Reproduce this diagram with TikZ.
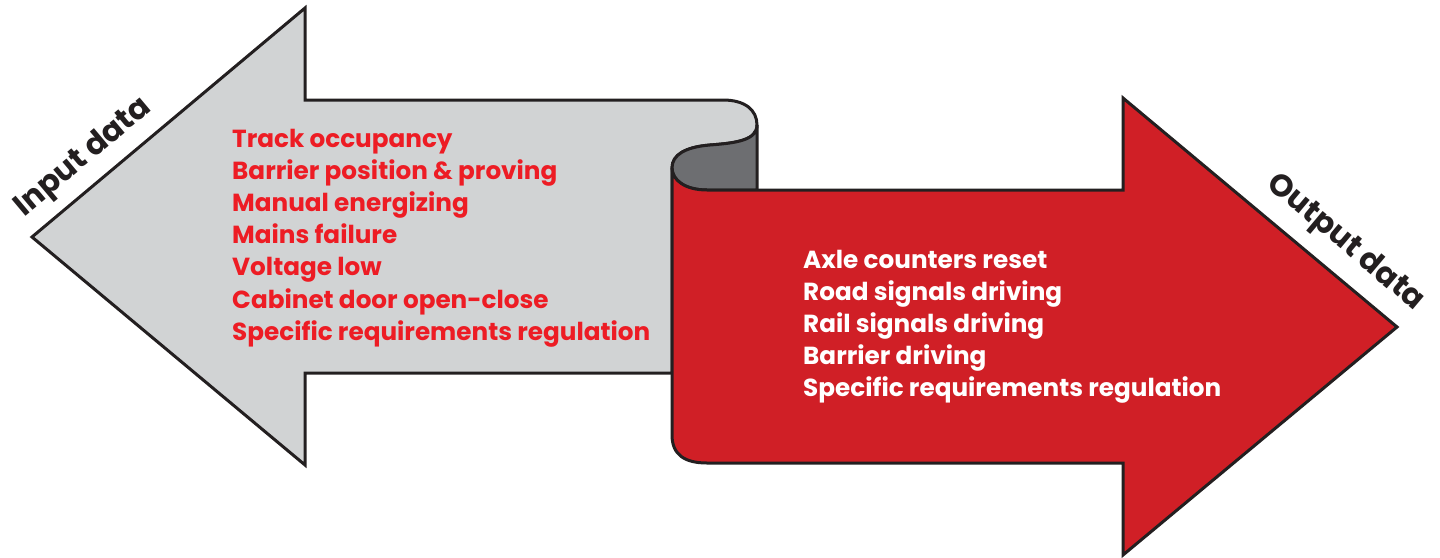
\documentclass[tikz,border=0pt]{standalone}
\usepackage{fontspec}
\setmainfont{Poppins}
\definecolor{sheet}{HTML}{D1D3D4}
\definecolor{curlback}{HTML}{6D6E71}
\definecolor{flag}{HTML}{D01F26}
\definecolor{ink}{HTML}{231F20}
\definecolor{listred}{HTML}{ED1C24}
\begin{document}
\begin{tikzpicture}[x=1pt,y=-1pt,
  outline/.style={draw=ink, line width=3pt, line join=miter},
  listfont/.style={font=\fontsize{24.7}{32}\selectfont\bfseries, inner sep=0pt, anchor=base west},
  tagfont/.style={font=\fontsize{31}{36}\selectfont\bfseries, text=ink, inner sep=0pt}]
\useasboundingbox (0,0) rectangle (1440,557);

% grey input arrow, pointing left, with its rolled end at the top right
\path[outline, fill=sheet]
  (723,100) -- (305,100) -- (305,8) -- (32,237) -- (305,465) -- (305,373)
  -- (672,373) -- (672,168)
  .. controls (672,155) and (685,147) .. (710,145)
  .. controls (737,143) and (757,140) .. (757,125)
  .. controls (757,110) and (745,100) .. (723,100) -- cycle;

% underside of the roll
\path[outline, fill=curlback]
  (672,168)
  .. controls (672,155) and (685,147) .. (710,145)
  .. controls (737,143) and (757,140) .. (757,125)
  -- (757,190) -- (707,190)
  .. controls (685,190) and (672,180) .. (672,168) -- cycle;

% red output arrow, pointing right
\path[outline, fill=flag]
  (672,168) .. controls (672,180) and (685,190) .. (707,190)
  -- (1123,190) -- (1123,98) -- (1397,327) -- (1123,555) -- (1123,463)
  -- (707,463) .. controls (685,463) and (672,455) .. (672,435) -- cycle;

% arrow captions
\node[tagfont, rotate=40] (intag) at (84,158) {Input data};
\node[tagfont, rotate=-40] (outtag) at (1345,243) {Output data};

% input signals
\foreach \txt [count=\i from 0] in {Track occupancy, Barrier position \& proving,
    Manual energizing, Mains failure, Voltage low, Cabinet door open-close,
    Specific requirements regulation}
  \node[listfont, text=listred] (in\i) at (232,147+32.2*\i) {\txt};

% output signals
\foreach \txt [count=\i from 0] in {Axle counters reset, Road signals driving,
    Rail signals driving, Barrier driving, Specific requirements regulation}
  \node[listfont, text=white] (out\i) at (803,268+32*\i) {\txt};
\end{tikzpicture}
\end{document}
